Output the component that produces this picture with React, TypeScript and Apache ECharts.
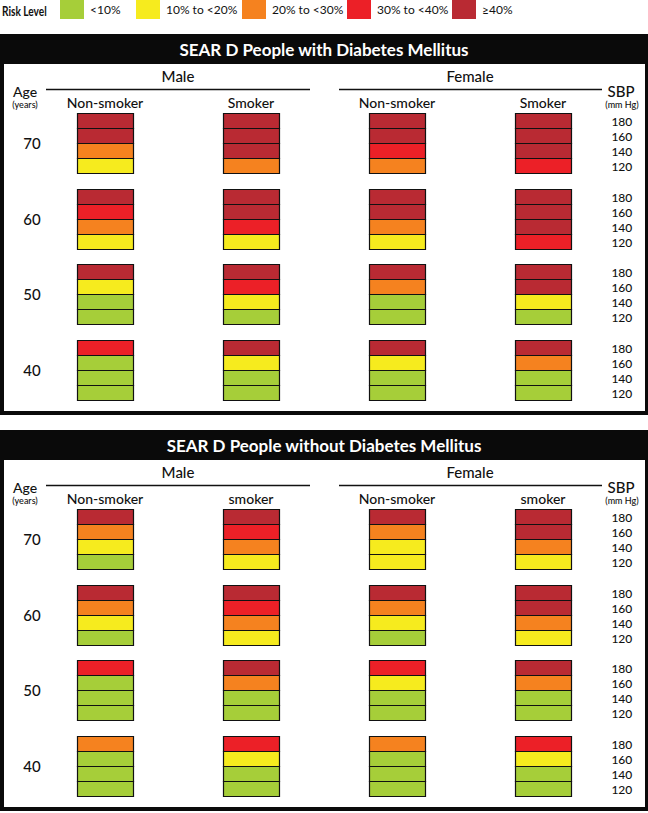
import React, { useEffect, useRef } from 'react';
import * as echarts from 'echarts';

// ---------- data ----------
const riskLevels = ['<10%', '10% to <20%', '20% to <30%', '30% to <40%', '≥40%'];
const riskColors = ['#A6CE39', '#F6EB1E', '#F5821F', '#EC2027', '#B92A33'];
const ageGroups = ['70', '60', '50', '40'];
const sbpLevels = ['180', '160', '140', '120'];
const sexGroups = ['Male', 'Female'];
const smokingWithDiabetes = ['Non-smoker', 'Smoker', 'Non-smoker', 'Smoker'];
const smokingWithoutDiabetes = ['Non-smoker', 'smoker', 'Non-smoker', 'smoker'];
const panelTitles = ['SEAR D People with Diabetes Mellitus', 'SEAR D People without Diabetes Mellitus'];

// risk level index (0..4) per SBP 180,160,140,120 ; columns: Male NS, Male S, Female NS, Female S
const withDiabetes70 = [[4, 4, 2, 1], [4, 4, 4, 2], [4, 4, 3, 2], [4, 4, 4, 3]];
const withDiabetes60 = [[4, 3, 2, 1], [4, 4, 3, 1], [4, 4, 2, 1], [4, 4, 4, 3]];
const withDiabetes50 = [[4, 1, 0, 0], [4, 3, 1, 0], [4, 2, 0, 0], [4, 4, 1, 0]];
const withDiabetes40 = [[3, 0, 0, 0], [4, 1, 0, 0], [4, 1, 0, 0], [4, 2, 0, 0]];

const withoutDiabetes70 = [[4, 2, 1, 0], [4, 3, 2, 1], [4, 2, 1, 1], [4, 4, 2, 1]];
const withoutDiabetes60 = [[4, 2, 1, 0], [4, 3, 2, 1], [4, 2, 1, 0], [4, 4, 2, 1]];
const withoutDiabetes50 = [[3, 0, 0, 0], [4, 2, 0, 0], [3, 1, 0, 0], [4, 2, 0, 0]];
const withoutDiabetes40 = [[2, 0, 0, 0], [3, 1, 0, 0], [2, 0, 0, 0], [3, 1, 0, 0]];

const panelsData = [
  [withDiabetes70, withDiabetes60, withDiabetes50, withDiabetes40],
  [withoutDiabetes70, withoutDiabetes60, withoutDiabetes50, withoutDiabetes40],
];
const panelColumns = [smokingWithDiabetes, smokingWithoutDiabetes];

// ---------- layout ----------
const FONT = 'Lato, "Liberation Sans", sans-serif';
const PANEL_OFFSET = 396;
const LEGEND_X = [60, 136, 242, 347, 452];
const BOX_W = 56;
const BOX_H = 60;
const INK = '#111';

function renderSegment(params: any, api: any) {
  const col = api.value(0);
  const row = api.value(1);
  const seg = api.value(2);
  const c = api.coord([col, row]);
  const segH = BOX_H / 4;
  const x = Math.round(c[0] - BOX_W / 2) + 0.5;
  const y = Math.round(c[1] - BOX_H / 2) + 0.5 + seg * segH;
  return {
    type: 'rect',
    shape: { x, y, width: BOX_W, height: segH },
    style: { fill: api.visual('color'), stroke: INK, lineWidth: 1.2 },
  };
}

function renderSbp(params: any, api: any) {
  const col = api.value(0);
  const row = api.value(1);
  const seg = api.value(2);
  const c = api.coord([col, row]);
  const size = api.size([1, 1]);
  const segH = BOX_H / 4;
  const y = Math.round(c[1] - BOX_H / 2) + seg * segH + segH / 2 + 1;
  return {
    type: 'text',
    x: c[0] + size[0] * 0.54,
    y,
    style: {
      text: sbpLevels[seg],
      fill: INK,
      fontSize: 12,
      fontWeight: 500,
      fontFamily: FONT,
      align: 'center',
      verticalAlign: 'middle',
      textAlign: 'center',
      textVerticalAlign: 'middle',
    },
  };
}

function buildOption() {
  const grid: any[] = [];
  const xAxis: any[] = [];
  const yAxis: any[] = [];
  const series: any[] = [];
  const graphic: any[] = [];

  graphic.push({
    type: 'text', x: 2, y: 11, z: 5, scaleX: 0.78,
    style: { text: 'Risk Level', fill: INK, fontSize: 13, fontWeight: 'bold', fontFamily: FONT, verticalAlign: 'middle', textVerticalAlign: 'middle' },
  });

  panelsData.forEach((rows, p) => {
    const o = p * PANEL_OFFSET;
    grid.push({ left: 32, width: 584, top: 105.17 + o, height: 302.67 });
    xAxis.push({
      gridIndex: p, type: 'category', position: 'top', data: panelColumns[p],
      axisLine: { show: false }, axisTick: { show: false }, splitLine: { show: false },
      axisLabel: { interval: 0, fontSize: 14, color: INK, fontFamily: FONT, fontWeight: 500, margin: 3, verticalAlign: 'middle' },
    });
    yAxis.push({
      gridIndex: p, type: 'category', inverse: true, data: ageGroups,
      axisLine: { show: false }, axisTick: { show: false }, splitLine: { show: false },
      axisLabel: { fontSize: 15, color: INK, fontFamily: FONT, fontWeight: 500, align: 'center', margin: 0 },
    });

    riskLevels.forEach((name, L) => {
      const data: number[][] = [];
      rows.forEach((cols, r) => {
        cols.forEach((segs, c) => {
          segs.forEach((lvl, s) => {
            if (lvl === L) data.push([c, r, s]);
          });
        });
      });
      series.push({
        type: 'custom', name, xAxisIndex: p, yAxisIndex: p,
        encode: { x: 0, y: 1 }, itemStyle: { color: riskColors[L] },
        renderItem: renderSegment, data, z: 3,
      });
    });

    const sbpData: number[][] = [];
    ageGroups.forEach((_, r) => sbpLevels.forEach((__, s) => sbpData.push([3, r, s])));
    series.push({
      type: 'custom', name: 'SBP', xAxisIndex: p, yAxisIndex: p, silent: true,
      encode: { x: 0, y: 1 }, renderItem: renderSbp, data: sbpData, z: 3,
    });

    // panel frame
    graphic.push({ type: 'rect', z: -10, shape: { x: 0, y: 34 + o, width: 648, height: 381 }, style: { fill: '#0a0a0a' } });
    graphic.push({ type: 'rect', z: -9, shape: { x: 4, y: 64 + o, width: 641, height: 347 }, style: { fill: '#ffffff' } });
    graphic.push({
      type: 'text', x: 324, y: 49 + o, z: 5,
      style: { text: panelTitles[p], fill: '#ffffff', fontSize: 17, fontWeight: 'bold', fontFamily: FONT, align: 'center', verticalAlign: 'middle', textAlign: 'center', textVerticalAlign: 'middle' },
    });
    const sexX = [178, 470];
    const lineX = [[46, 310], [339, 602]];
    sexGroups.forEach((sx, i) => {
      graphic.push({
        type: 'text', x: sexX[i], y: 76 + o, z: 5,
        style: { text: sx, fill: INK, fontSize: 15, fontWeight: 500, fontFamily: FONT, align: 'center', verticalAlign: 'middle', textAlign: 'center', textVerticalAlign: 'middle' },
      });
      graphic.push({
        type: 'line', z: 5,
        shape: { x1: lineX[i][0], y1: 89.5 + o, x2: lineX[i][1], y2: 89.5 + o },
        style: { stroke: INK, lineWidth: 1.4 },
      });
    });
    const sideTexts = [
      { t: 'Age', x: 25, y: 91, s: 14 },
      { t: '(years)', x: 25, y: 104, s: 9 },
      { t: 'SBP', x: 621, y: 91, s: 15 },
      { t: '(mm Hg)', x: 622, y: 104, s: 9 },
    ];
    sideTexts.forEach((d) => {
      graphic.push({
        type: 'text', x: d.x, y: d.y + o, z: 5,
        style: { text: d.t, fill: INK, fontSize: d.s, fontWeight: 500, fontFamily: FONT, align: 'center', verticalAlign: 'middle', textAlign: 'center', textVerticalAlign: 'middle' },
      });
    });
  });

  const legend = riskLevels.map((name, i) => ({
    data: [name], left: LEGEND_X[i], top: 0, padding: 0, itemGap: 0,
    itemWidth: 24, itemHeight: 19, icon: 'rect', selectedMode: false,
    itemStyle: { borderWidth: 0 },
    textStyle: { fontSize: 12, color: INK, fontFamily: FONT, padding: [2, 0, 0, 1] },
  }));

  return {
    animation: false,
    backgroundColor: '#ffffff',
    legend,
    grid,
    xAxis,
    yAxis,
    series,
    graphic,
  };
}

export default function App() {
  const ref = useRef<HTMLDivElement>(null);
  useEffect(() => {
    document.body.style.margin = '0';
    if (!ref.current) return;
    const chart = echarts.init(ref.current, null, { renderer: 'svg' });
    chart.setOption(buildOption() as any);
    return () => chart.dispose();
  }, []);
  return <div ref={ref} style={{ width: 648, height: 813 }} />;
}
